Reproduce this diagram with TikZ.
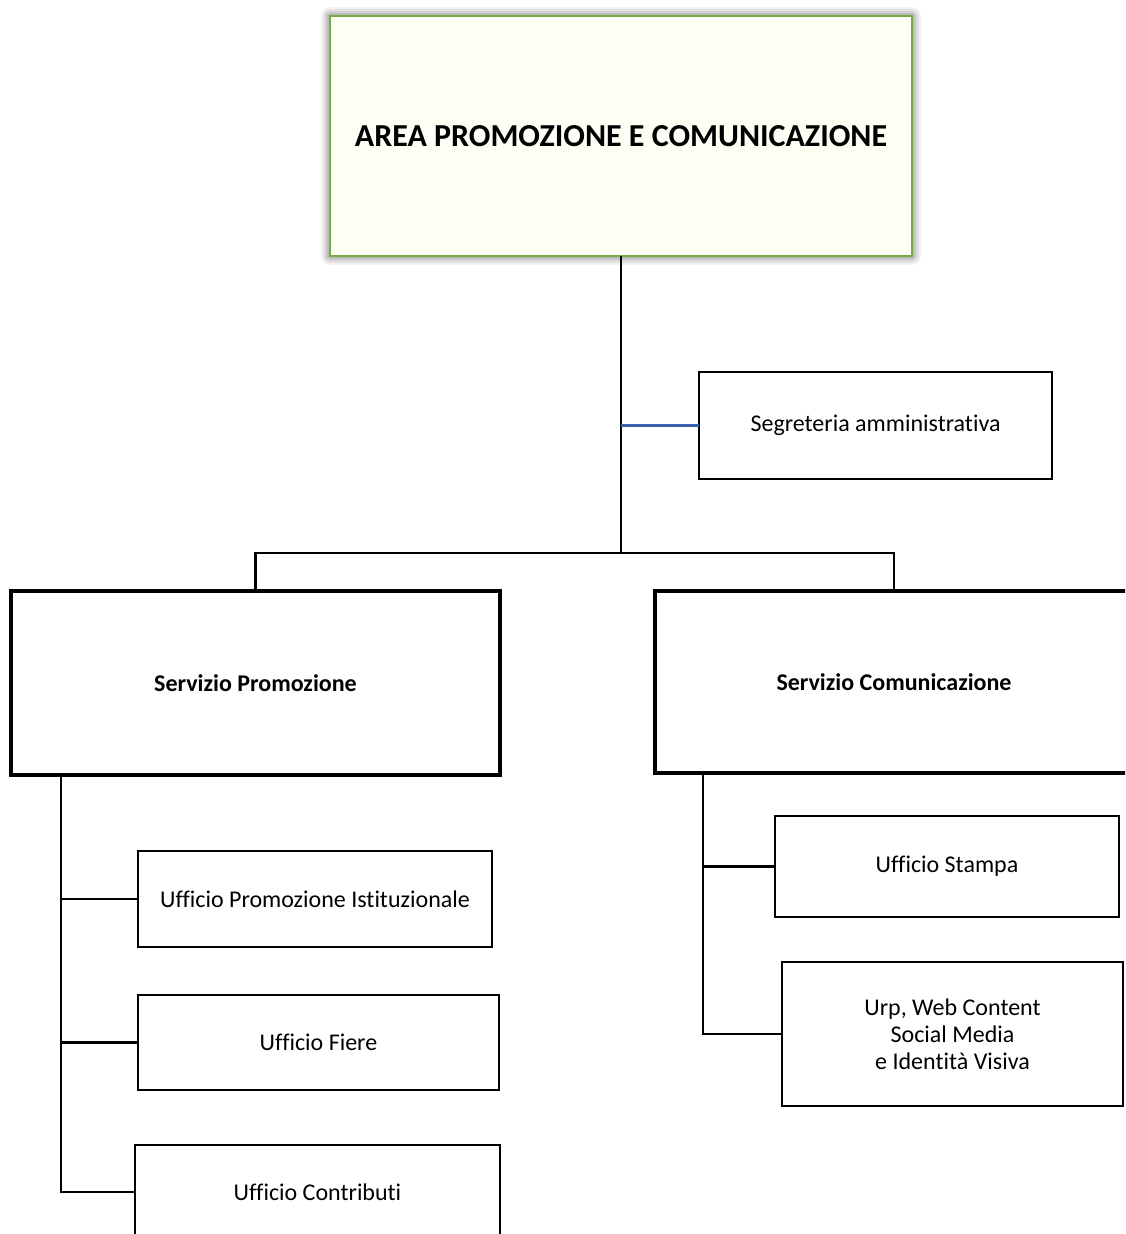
\documentclass[tikz,border=0pt]{standalone}
\usepackage{fontspec}
\setmainfont{Carlito}[Ligatures=NoCommon]
\begin{document}
\begin{tikzpicture}[x=1pt,y=-1pt,
  every node/.style={inner sep=0pt,outer sep=0pt,align=center},
  areabox/.style={draw=areagreen,line width=2.6pt,fill=areafill,font=\fontsize{32}{36}\selectfont\bfseries},
  thinbox/.style={draw=black,line width=1.3pt,fill=white,font=\fontsize{24}{27}\selectfont},
  servbox/.style={draw=black,line width=4.6pt,fill=white,font=\fontsize{24}{27}\selectfont\bfseries},
  officebox/.style={draw=black,line width=2.4pt,fill=white,font=\fontsize{24}{27}\selectfont},
  link/.style={draw=black,line width=2.8pt},
  bluelink/.style={draw=linkblue,line width=2.2pt}]
\definecolor{areagreen}{HTML}{70AD47}
\definecolor{areafill}{HTML}{FEFFF4}
\definecolor{linkblue}{HTML}{3A63B0}
\useasboundingbox (0,0) rectangle (1125,1234);
\clip (0,0) rectangle (1125,1234);
% soft grey halo around the area box
\foreach \g/\o in {9/0.05,7/0.06,5/0.08,3/0.10}
  \fill[black,opacity=\o,rounded corners=\g pt] (330-\g,16-\g) rectangle (912+\g,256+\g);
% boxes
\node[areabox,minimum width=582pt,minimum height=240pt] (area) at (621,136) {AREA PROMOZIONE E COMUNICAZIONE};
\node[thinbox,minimum width=353pt,minimum height=107pt] (segr) at (875.5,425.5) {Segreteria amministrativa};
\node[servbox,minimum width=489pt,minimum height=184pt] (sprom) at (255.5,683) {Servizio Promozione};
\node[servbox,minimum width=478pt,minimum height=182pt] (scom) at (894,682) {Servizio Comunicazione};
\node[officebox,minimum width=354pt,minimum height=96pt] (uistit) at (315,899) {Ufficio Promozione Istituzionale};
\node[officebox,minimum width=361pt,minimum height=95pt] (ufiere) at (318.5,1042.5) {Ufficio Fiere};
\node[officebox,minimum width=365pt,minimum height=94pt] (ucontr) at (317.5,1192) {Ufficio Contributi};
\node[officebox,minimum width=344pt,minimum height=101pt] (ustampa) at (947,866.5) {Ufficio Stampa};
\node[officebox,minimum width=341pt,minimum height=144pt] (uurp) at (952.5,1034) {Urp, Web Content\\Social Media\\e Identità Visiva};
% trunk and branches
\coordinate (hub) at (621,553);
\coordinate (lspine) at (61,0);
\coordinate (rspine) at (703,0);
\draw[link] (area.south) -- (hub);
\draw[bluelink] (621,425.5) -- (segr.west);
\draw[link] (sprom.north) |- (hub) -| (scom.north);
\draw[link] (sprom.south -| lspine) -- (ucontr.west -| lspine) -- (ucontr.west);
\draw[link] (uistit.west -| lspine) -- (uistit.west);
\draw[link] (ufiere.west -| lspine) -- (ufiere.west);
\draw[link] (scom.south -| rspine) -- (uurp.west -| rspine) -- (uurp.west);
\draw[link] (ustampa.west -| rspine) -- (ustampa.west);
\end{tikzpicture}
\end{document}
